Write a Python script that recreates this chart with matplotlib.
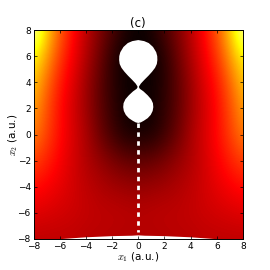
#!/usr/bin/env python3
"""Potential map, panel (c), values read off the picture."""

import matplotlib

matplotlib.use("Agg")
import matplotlib.pyplot as plt
import numpy as np

plt.rcParams["mathtext.fontset"] = "cm"

# colour level (0..1 on the hot map) for x1 = 0, 1, ... 8, mirrored around x1 = 0
x2_rows = [8, 6, 4, 2, 0, -2, -4, -6, -8]
levels_half = [
    [0.00, 0.03, 0.10, 0.18, 0.27, 0.38, 0.50, 0.68, 0.92],
    [0.00, 0.00, 0.05, 0.15, 0.25, 0.35, 0.45, 0.60, 0.74],
    [0.00, 0.01, 0.05, 0.13, 0.22, 0.32, 0.40, 0.52, 0.66],
    [0.00, 0.01, 0.06, 0.13, 0.22, 0.30, 0.38, 0.48, 0.60],
    [0.02, 0.03, 0.08, 0.15, 0.24, 0.31, 0.38, 0.46, 0.55],
    [0.13, 0.14, 0.17, 0.21, 0.25, 0.30, 0.36, 0.41, 0.46],
    [0.21, 0.22, 0.23, 0.25, 0.27, 0.30, 0.33, 0.36, 0.38],
    [0.26, 0.265, 0.27, 0.27, 0.28, 0.29, 0.30, 0.31, 0.32],
    [0.25, 0.25, 0.255, 0.26, 0.26, 0.27, 0.27, 0.27, 0.27],
]

# white region at the top of the chart (half width against x2)
blob_x2 = [7.23, 7.15, 7.0, 6.7, 6.3, 6.0, 5.7, 5.4, 5.1, 4.8, 4.5, 4.2, 3.9, 3.7, 3.63,
           3.5, 3.3, 3.0, 2.7, 2.4, 2.1, 1.8, 1.5, 1.25, 1.05, 0.93, 0.88]
blob_half = [0.0, 0.45, 0.8, 1.13, 1.37, 1.45, 1.46, 1.42, 1.28, 1.05, 0.78, 0.48, 0.2, 0.07, 0.05,
             0.12, 0.4, 0.72, 0.98, 1.12, 1.15, 1.1, 0.95, 0.72, 0.42, 0.2, 0.0]

# white rim along the bottom edge
rim_x1 = [-5.8, -4, -2, -0.5, 0, 0.5, 2, 4, 5.8]
rim_x2 = [-8.0, -7.87, -7.78, -7.75, -7.72, -7.75, -7.78, -7.87, -8.0]

# dashed line between blob and rim
dash_x1 = [0, 0]
dash_x2 = [0.85, -7.5]

tick_vals = [-8, -6, -4, -2, 0, 2, 4, 6, 8]

half = np.array(levels_half)
grid = np.hstack([half[:, :0:-1], half])

fig = plt.figure(figsize=(2.7, 2.7), dpi=100)
ax = fig.add_axes([33.5 / 270, 31 / 270, 209.5 / 270, 209 / 270])

ax.imshow(
    grid,
    cmap="hot",
    vmin=0,
    vmax=1,
    extent=(-8.5, 8.5, -9, 9),
    aspect="auto",
    interpolation="bicubic",
)

blob_half = np.array(blob_half)
ax.fill(
    np.concatenate([blob_half, -blob_half[::-1]]),
    blob_x2 + blob_x2[::-1],
    color="white",
    lw=0,
)
ax.fill(rim_x1, rim_x2, color="white", lw=0)
ax.plot(dash_x1, dash_x2, color="white", lw=2, linestyle=(0, (1.6, 1.6)))

ax.set_xlim(-8, 8)
ax.set_ylim(-8, 8)
ax.set_xticks(tick_vals)
ax.set_yticks(tick_vals)
ax.tick_params(
    direction="in", top=True, right=True, labelsize=6.5, length=2.5, width=0.5, pad=2
)
for spine in ax.spines.values():
    spine.set_linewidth(0.7)

ax.set_title("(c)", fontsize=8.5, pad=2)
ax.set_xlabel("$x_1$ (a.u.)", fontsize=7.5, labelpad=0)
ax.set_ylabel("$x_2$ (a.u.)", fontsize=7.5, labelpad=-1.5)

fig.savefig("out.png", dpi=100, facecolor="white")
